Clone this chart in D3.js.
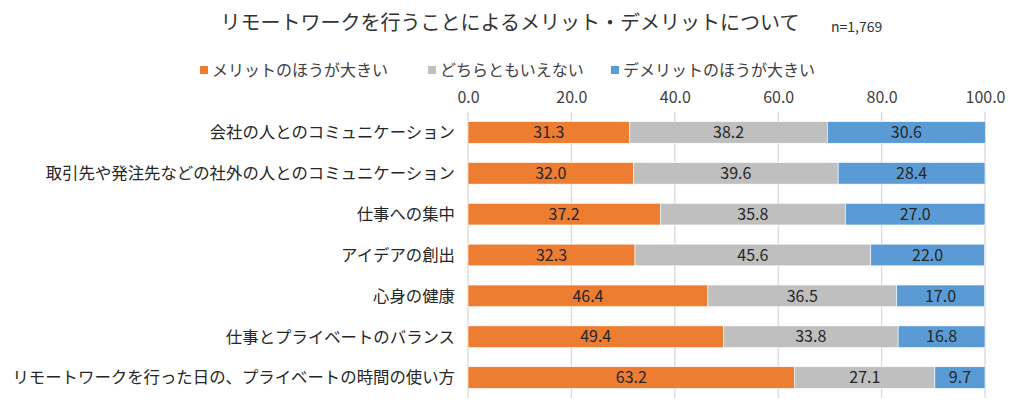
<!DOCTYPE html>
<html><head><meta charset="utf-8">
<script src="https://cdn.jsdelivr.net/npm/d3@7"></script>
<style>body{margin:0;background:#fff;}svg{display:block;font-family:"Noto Sans CJK JP","Noto Sans",sans-serif;}</style>
</head><body>
<script>
const categories = ["会社の人とのコミュニケーション","取引先や発注先などの社外の人とのコミュニケーション","仕事への集中","アイデアの創出","心身の健康","仕事とプライベートのバランス","リモートワークを行った日の、プライベートの時間の使い方"];
const seriesNames = ["メリットのほうが大きい","どちらともいえない","デメリットのほうが大きい"];
const merit = [31.3,32.0,37.2,32.3,46.4,49.4,63.2];
const neutral = [38.2,39.6,35.8,45.6,36.5,33.8,27.1];
const demerit = [30.6,28.4,27.0,22.0,17.0,16.8,9.7];
const tickValues = [0,20,40,60,80,100];
const colors = ["#ED7D31","#BFBFBF","#5B9BD5"];
const title = "リモートワークを行うことによるメリット・デメリットについて";
const note = "n=1,769";

const W=1024,H=409;
const svg=d3.select("body").append("svg").attr("width",W).attr("height",H);
const x=d3.scaleLinear().domain([0,100]).range([468,985]);
const y=d3.scaleBand().domain(categories).range([112,398]).paddingInner(0.47).paddingOuter(0.235);

svg.append("text").attr("x",510).attr("y",30).attr("text-anchor","middle").attr("font-size",20).attr("fill","#333").text(title);
svg.append("text").attr("x",831).attr("y",32).attr("font-size",14).attr("fill","#333").text(note);

// legend
const legX=[200,428,611];
seriesNames.forEach((n,i)=>{
  svg.append("rect").attr("x",legX[i]).attr("y",66).attr("width",8).attr("height",8).attr("fill",colors[i]);
  svg.append("text").attr("x",legX[i]+12).attr("y",76).attr("font-size",16).attr("fill","#404040").text(n);
});

// grid
svg.append("g").selectAll("line").data(tickValues).join("line")
  .attr("x1",d=>x(d)).attr("x2",d=>x(d)).attr("y1",112).attr("y2",398)
  .attr("stroke","#D9D9D9").attr("stroke-width",1.3);

// axis
const ax=svg.append("g").attr("transform","translate(0,112)").call(d3.axisTop(x).tickValues(tickValues).tickFormat(d3.format(".1f")).tickSize(0).tickPadding(9));
ax.select(".domain").remove();
ax.selectAll("text").attr("font-size",16).attr("fill","#404040").attr("font-family","'Noto Sans CJK JP','Noto Sans',sans-serif");

// stacked data
const rows=categories.map((c,i)=>({cat:c,v:[merit[i],neutral[i],demerit[i]]}));
rows.forEach(r=>{
  let acc=0;
  r.v.forEach((v,k)=>{
    const x0=acc; acc+=v;
    svg.append("rect").attr("x",x(x0)).attr("y",y(r.cat)).attr("width",x(acc)-x(x0)).attr("height",y.bandwidth())
      .attr("fill",colors[k]).attr("stroke","#fff").attr("stroke-width",0.6);
    svg.append("text").attr("x",(x(x0)+x(acc))/2).attr("y",y(r.cat)+y.bandwidth()/2).attr("dy","0.36em")
      .attr("text-anchor","middle").attr("font-size",16).attr("fill","#262626").text(v.toFixed(1));
  });
  svg.append("text").attr("x",455).attr("y",y(r.cat)+y.bandwidth()/2).attr("dy","0.36em")
    .attr("text-anchor","end").attr("font-size",16.4).attr("fill","#262626").text(r.cat);
});
</script>
</body></html>
